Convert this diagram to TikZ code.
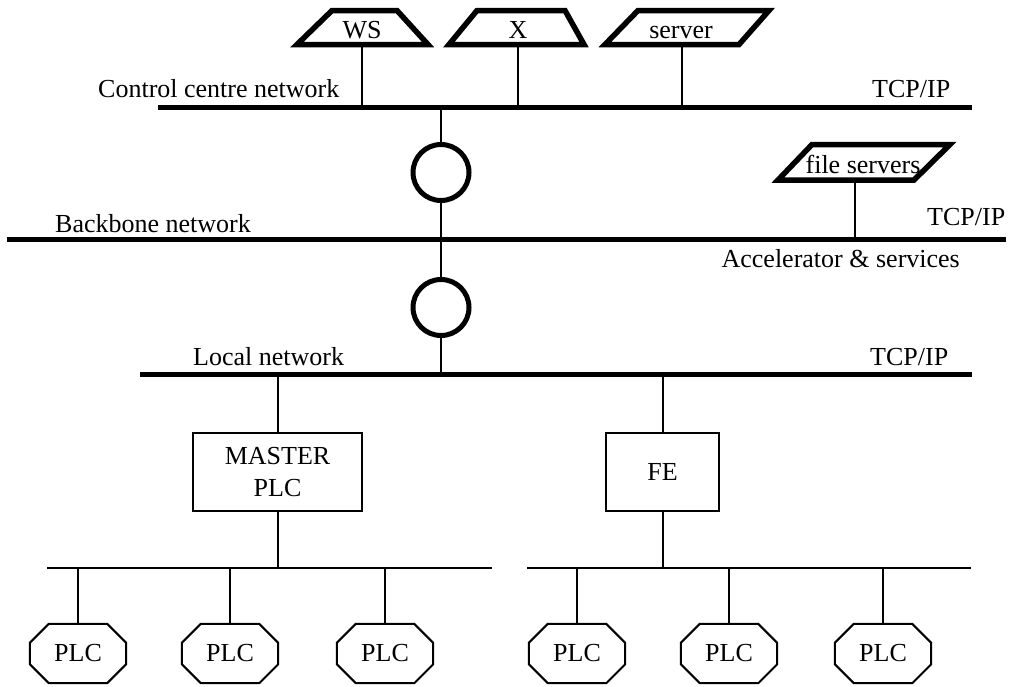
\documentclass[tikz,border=0pt]{standalone}
\usepackage{fontspec}
\setmainfont{Liberation Serif}
\usetikzlibrary{calc}
\begin{document}
\begin{tikzpicture}[x=1pt,y=-1pt,
  font=\fontsize{26}{32}\selectfont,
  thin line/.style={line width=2pt},
  thick line/.style={line width=5pt},
  term line/.style={line width=5.5pt,line join=miter},
  netlabel/.style={anchor=base west,inner sep=0pt},
  boxnode/.style={draw,line width=2pt,minimum height=78pt,inner sep=0pt,align=center},
  plcnode/.style={minimum width=96pt,minimum height=59pt,inner sep=0pt},
  shapetext/.style={anchor=base,inner sep=0pt}]
\useasboundingbox (0,0) rectangle (1009,686);

% ---- networks ----
\coordinate (ccnL) at (158,107); \coordinate (ccnR) at (972,107);
\coordinate (bbL) at (7,239);    \coordinate (bbR) at (1006,239);
\coordinate (lnL) at (140,374);  \coordinate (lnR) at (972,374);
\draw[thick line] (ccnL) -- (ccnR);
\draw[thick line] (bbL) -- (bbR);
\draw[thick line] (lnL) -- (lnR);

\node[netlabel] (ccnlab) at (98,97) {Control centre network};
\node[netlabel] (ccntcp) at (872,97) {TCP/IP};
\node[netlabel] (bblab) at (55,232) {Backbone network};
\node[netlabel] (bbtcp) at (927,225) {TCP/IP};
\node[anchor=base east,inner sep=0pt] (acclab) at (960,267) {Accelerator \& services};
\node[netlabel] (lnlab) at (193,365) {Local network};
\node[netlabel] (lntcp) at (870,365) {TCP/IP};

% ---- top terminals ----
\draw[term line] (297,44.5) -- (332,10.5) -- (397,10.5) -- (428,44.5) -- cycle;
\node[shapetext] (ws) at (362,38) {WS};
\coordinate (wsB) at (362,44.5);
\draw[term line] (449,44.5) -- (477,10.5) -- (565,10.5) -- (584,44.5) -- cycle;
\node[shapetext] (xt) at (518,38) {X};
\coordinate (xB) at (518,44.5);
\draw[term line] (605,44.5) -- (638,10.5) -- (769,10.5) -- (739,44.5) -- cycle;
\node[shapetext] (srv) at (681,38) {server};
\coordinate (srvB) at (682,44.5);

\draw[thin line] (wsB) -- (wsB |- ccnL);
\draw[thin line] (xB) -- (xB |- ccnL);
\draw[thin line] (srvB) -- (srvB |- ccnL);

% ---- file servers ----
\draw[term line] (778,180) -- (812,144.5) -- (950,144.5) -- (914,180) -- cycle;
\node[shapetext] (fs) at (863,173) {file servers};
\coordinate (fsB) at (855,180);
\draw[thin line] (fsB) -- (fsB |- bbL);

% ---- routers ----
\node[circle,draw,line width=5pt,minimum size=56pt,inner sep=0pt] (r1) at (441,172.5) {};
\node[circle,draw,line width=5pt,minimum size=56pt,inner sep=0pt] (r2) at (441,307.5) {};
\draw[thin line] (r1.north) -- (r1.north |- ccnL);
\draw[thin line] (r1.south) -- (r2.north);
\draw[thin line] (r2.south) -- (r2.south |- lnL);

% ---- master / FE ----
\node[boxnode,minimum width=169pt] (master) at (277.5,472) {MASTER\\PLC};
\node[boxnode,minimum width=113pt] (fe) at (662.5,472) {FE};
\draw[thin line] (master.north) -- (master.north |- lnL);
\draw[thin line] (fe.north) -- (fe.north |- lnL);

% ---- field buses ----
\coordinate (fbL1) at (47,568); \coordinate (fbL2) at (492,568);
\coordinate (fbR1) at (527,568); \coordinate (fbR2) at (971,568);
\draw[thin line] (fbL1) -- (fbL2);
\draw[thin line] (fbR1) -- (fbR2);
\draw[thin line] (master.south) -- (master.south |- fbL1);
\draw[thin line] (fe.south) -- (fe.south |- fbR1);

% ---- PLCs ----
\node[plcnode] (p1) at (78,653.5) {PLC};
\node[plcnode] (p2) at (230,653.5) {PLC};
\node[plcnode] (p3) at (385,653.5) {PLC};
\node[plcnode] (p4) at (577,653.5) {PLC};
\node[plcnode] (p5) at (729,653.5) {PLC};
\node[plcnode] (p6) at (883,653.5) {PLC};
\foreach \n in {p1,p2,p3,p4,p5,p6}{
  \draw[thin line,line join=miter]
    ($(\n.north west)+(19,0)$) -- ($(\n.north east)+(-19,0)$) --
    ($(\n.north east)+(0,19)$) -- ($(\n.south east)+(0,-19)$) --
    ($(\n.south east)+(-19,0)$) -- ($(\n.south west)+(19,0)$) --
    ($(\n.south west)+(0,-19)$) -- ($(\n.north west)+(0,19)$) -- cycle;
}
\foreach \n in {p1,p2,p3}{\draw[thin line] (\n.north) -- (\n.north |- fbL1);}
\foreach \n in {p4,p5,p6}{\draw[thin line] (\n.north) -- (\n.north |- fbR1);}
\end{tikzpicture}
\end{document}
